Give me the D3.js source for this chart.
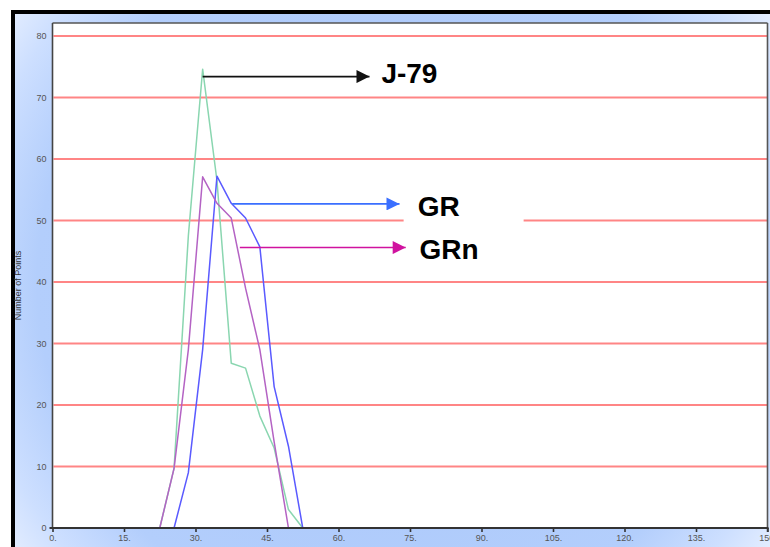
<!DOCTYPE html>
<html>
<head>
<meta charset="utf-8">
<script src="https://cdn.jsdelivr.net/npm/d3@7/dist/d3.min.js"></script>
<style>
  html, body { margin: 0; padding: 0; background: #fff; }
  svg { display: block; font-family: "Liberation Sans", Arial, sans-serif; }
</style>
</head>
<body>
<svg id="chart" width="770" height="547"></svg>
<script>
// Histogram bin centres and counts per sample
const bins = [22.5, 25.5, 28.5, 31.5, 34.5, 37.5, 40.5, 43.5, 46.5, 49.5, 52.5];
const j79  = [0, 9.7, 47.5, 74.6, 56.5, 26.8, 26.0, 18.2, 13.0, 3.0, 0];
const gr   = [null, 0, 9.0, 29.0, 57.2, 52.8, 50.4, 45.7, 23.0, 13.3, 0];
const grn  = [0, 9.7, 29.0, 57.1, 52.8, 50.4, 39.0, 29.0, 14.0, 0, null];

const xTicks = [0, 15, 30, 45, 60, 75, 90, 105, 120, 135, 150];
const yTicks = [0, 10, 20, 30, 40, 50, 60, 70, 80];
const yTitle = "Number of Points";

// Callout labels: arrow start (on the curve), arrow end, text anchor
const labelNames = ["J-79", "GR", "GRn"];
const arrowX0 = [31.5, 37.7, 39.3];
const arrowY  = [73.4, 52.7, 45.6];
const arrowX1 = [66.5, 72.8, 74.1];
const textX   = [69.0, 76.6, 77.0];
const textY   = [72.3, 50.8, 43.7];

const lineColors  = ["#8ad6b0", "#5a5aff", "#b463c4"];
const arrowColors = ["#111111", "#3a6fff", "#d0139f"];

const svg = d3.select("#chart");
const W = 770, H = 547;
const plot = { left: 52.5, right: 767.5, top: 23, bottom: 528 };

const x = d3.scaleLinear().domain([0, 150]).range([plot.left, plot.right]);
const y = d3.scaleLinear().domain([0, 80]).range([plot.bottom, 36]);

// Background panel gradient
const defs = svg.append("defs");
const bg = defs.append("radialGradient")
  .attr("id", "bg").attr("gradientUnits", "userSpaceOnUse")
  .attr("cx", 390).attr("cy", 280).attr("r", 490);
bg.append("stop").attr("offset", "0").attr("stop-color", "#a8c6fa");
bg.append("stop").attr("offset", "0.72").attr("stop-color", "#b3cefc");
bg.append("stop").attr("offset", "0.86").attr("stop-color", "#cddfff");
bg.append("stop").attr("offset", "1").attr("stop-color", "#f0f5ff");

defs.selectAll("marker").data(arrowColors).join("marker")
  .attr("id", (d, i) => "arr" + i)
  .attr("viewBox", "0 0 10 10")
  .attr("refX", 10).attr("refY", 5)
  .attr("markerUnits", "userSpaceOnUse")
  .attr("markerWidth", 14).attr("markerHeight", 13)
  .attr("orient", "auto")
  .append("path").attr("d", "M0,0 L10,5 L0,10 Z").attr("fill", d => d);

svg.append("rect").attr("width", W).attr("height", H).attr("fill", "#fff");
svg.append("rect")
  .attr("x", 13).attr("y", 12).attr("width", 820).attr("height", 620)
  .attr("fill", "url(#bg)").attr("stroke", "#000").attr("stroke-width", 4);

// Plot area
svg.append("rect")
  .attr("x", plot.left).attr("y", plot.top)
  .attr("width", plot.right - plot.left).attr("height", plot.bottom - plot.top)
  .attr("fill", "#fff");

// Horizontal grid
svg.append("g").selectAll("line").data(yTicks.filter(d => d > 0)).join("line")
  .attr("x1", plot.left + 1).attr("x2", plot.right)
  .attr("y1", d => y(d)).attr("y2", d => y(d))
  .attr("stroke", "#ff8585").attr("stroke-width", 1.8);

// Knock-out behind the GR label
svg.append("rect")
  .attr("x", x(textX[1]) - 14).attr("y", y(textY[1]) - 30)
  .attr("width", 120).attr("height", 42)
  .attr("fill", "#fff");

// Frame lines
svg.append("line")
  .attr("x1", plot.left).attr("x2", plot.right)
  .attr("y1", plot.top).attr("y2", plot.top)
  .attr("stroke", "#555").attr("stroke-width", 1.6);
svg.append("line")
  .attr("x1", plot.right).attr("x2", plot.right)
  .attr("y1", plot.top).attr("y2", plot.bottom + 4)
  .attr("stroke", "#555").attr("stroke-width", 1.6);
svg.append("line")
  .attr("x1", plot.left).attr("x2", plot.left)
  .attr("y1", plot.top).attr("y2", plot.bottom)
  .attr("stroke", "#444").attr("stroke-width", 1.6);

// Series lines
const series = [j79, gr, grn];
const line = d3.line()
  .defined(d => d[1] != null)
  .x(d => x(d[0])).y(d => y(d[1]));
svg.append("g").selectAll("path").data(series).join("path")
  .attr("d", s => line(bins.map((b, i) => [b, s[i]])))
  .attr("fill", "none")
  .attr("stroke", (d, i) => lineColors[i])
  .attr("stroke-width", 1.5)
  .attr("stroke-linejoin", "round");

// X axis
const xAxis = svg.append("g")
  .attr("transform", `translate(0,${plot.bottom})`)
  .call(d3.axisBottom(x).tickValues(xTicks).tickFormat(d => d + ".").tickSize(4).tickPadding(3).tickSizeOuter(0));
xAxis.select(".domain").remove();
xAxis.append("line")
  .attr("x1", plot.left - 3).attr("x2", plot.right + 1)
  .attr("stroke", "#333").attr("stroke-width", 2);
xAxis.selectAll(".tick line").attr("stroke", "#333").attr("stroke-width", 1.6);
xAxis.selectAll(".tick text").attr("fill", "#555").attr("font-size", 9)
  .attr("font-family", "Liberation Sans, Arial, sans-serif");

// Y axis labels
const yAxis = svg.append("g")
  .attr("transform", `translate(${plot.left},0)`)
  .call(d3.axisLeft(y).tickValues(yTicks).tickSize(0).tickPadding(6).tickSizeOuter(0));
yAxis.select(".domain").remove();
yAxis.selectAll(".tick text").attr("fill", "#555").attr("font-size", 9)
  .attr("font-family", "Liberation Sans, Arial, sans-serif");

svg.append("text")
  .attr("transform", `translate(21,${(plot.top + plot.bottom) / 2 + 10}) rotate(-90)`)
  .attr("text-anchor", "middle")
  .attr("font-size", 9).attr("fill", "#333")
  .text(yTitle);

// Callouts
const callouts = svg.append("g");
labelNames.forEach((name, i) => {
  callouts.append("line")
    .attr("x1", x(arrowX0[i])).attr("x2", x(arrowX1[i]))
    .attr("y1", y(arrowY[i])).attr("y2", y(arrowY[i]))
    .attr("stroke", arrowColors[i]).attr("stroke-width", 1.6)
    .attr("marker-end", `url(#arr${i})`);
  callouts.append("text")
    .attr("x", x(textX[i])).attr("y", y(textY[i]))
    .attr("font-size", 28).attr("font-weight", "bold").attr("fill", "#000")
    .text(name);
});
</script>
</body>
</html>
